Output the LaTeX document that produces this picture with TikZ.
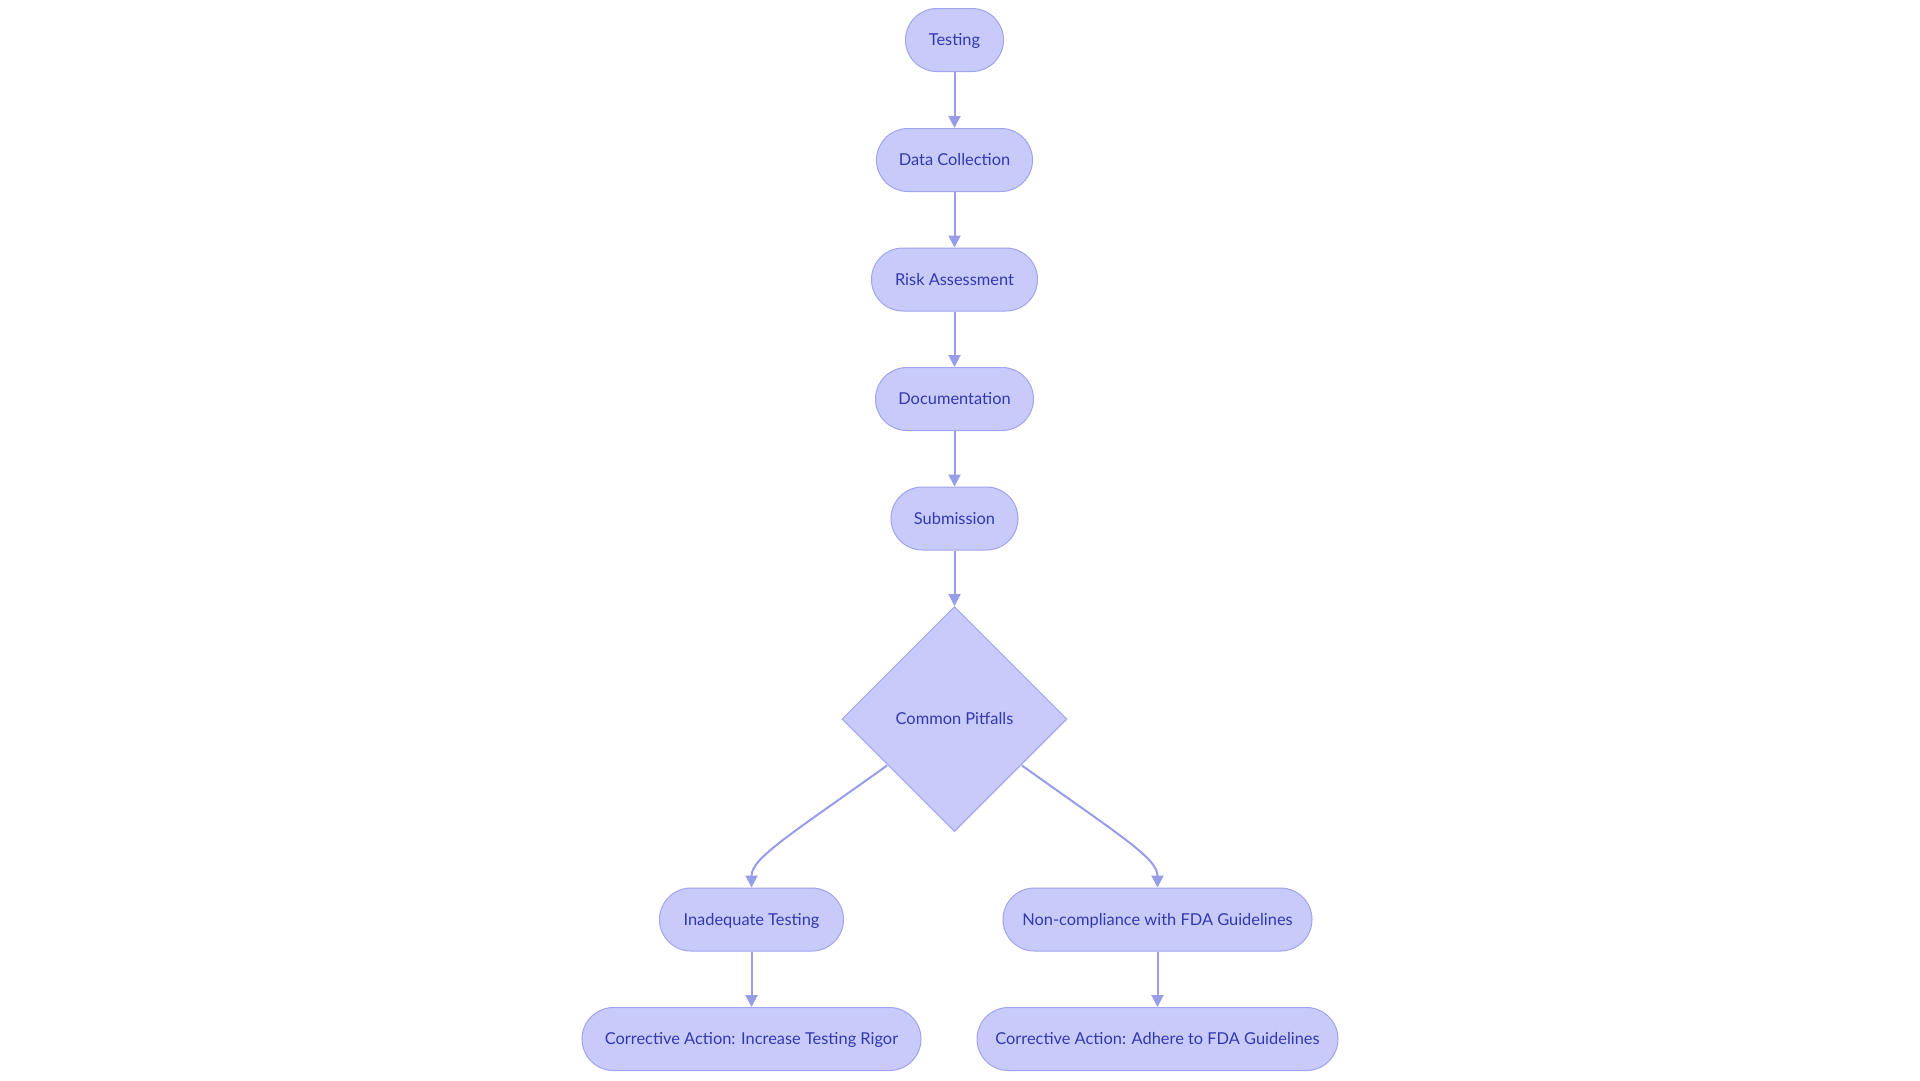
\documentclass[tikz,border=0pt]{standalone}
\usepackage{fontspec}
\setmainfont{Lato}
\usetikzlibrary{shapes.geometric,arrows.meta}
\definecolor{nfill}{RGB}{200,203,250}
\definecolor{nline}{RGB}{160,164,236}
\definecolor{ntext}{RGB}{52,56,176}
\definecolor{eline}{RGB}{152,157,234}
\tikzset{
  stad/.style={draw=nline, line width=1pt, fill=nfill, text=ntext, rounded corners=31.5pt,
    minimum height=63pt, inner sep=0pt, text height=11.8pt, text depth=0pt,
    font=\fontsize{16.4}{19}\selectfont},
  dia/.style={draw=nline, line width=1pt, fill=nfill, text=ntext, diamond, aspect=1,
    minimum width=225pt, minimum height=225pt, inner sep=0pt, text height=11.8pt, text depth=0pt,
    font=\fontsize{16.4}{19}\selectfont},
  conn/.style={draw=eline, line width=2pt, -{Triangle[length=12pt,width=12pt]}}
}
\begin{document}
\begin{tikzpicture}[x=1pt,y=-1pt]
\useasboundingbox[fill=white] (0,0) rectangle (1920,1080);
\node[stad, minimum width=98pt] (t) at (954.5,40) {Testing};
\node[stad, minimum width=156pt] (dc) at (954.5,160) {Data Collection};
\node[stad, minimum width=166pt] (ra) at (954.5,279.5) {Risk Assessment};
\node[stad, minimum width=158pt] (doc) at (954.5,399) {Documentation};
\node[stad, minimum width=127pt] (sub) at (954.5,518.5) {Submission};
\node[dia] (cp) at (954.5,719) {Common Pitfalls};
\node[stad, minimum width=184pt] (it) at (751.5,919.5) {Inadequate Testing};
\node[stad, minimum width=309pt] (nc) at (1157.5,919.5) {Non-compliance with FDA Guidelines};
\node[stad, minimum width=339pt] (ca1) at (751.5,1039) {Corrective Action: Increase Testing Rigor};
\node[stad, minimum width=361pt] (ca2) at (1157.5,1039) {Corrective Action: Adhere to FDA Guidelines};
\draw[conn] (t) -- (dc);
\draw[conn] (dc) -- (ra);
\draw[conn] (ra) -- (doc);
\draw[conn] (doc) -- (sub);
\draw[conn] (sub) -- (cp.north);
\coordinate (l0) at (887,765.5);
\coordinate (r0) at (1022,765.5);
\draw[conn] (l0) .. controls (790,835) and (751.5,858) .. (it.north);
\draw[conn] (r0) .. controls (1119,835) and (1157.5,858) .. (nc.north);
\draw[conn] (it) -- (ca1);
\draw[conn] (nc) -- (ca2);
\end{tikzpicture}
\end{document}
